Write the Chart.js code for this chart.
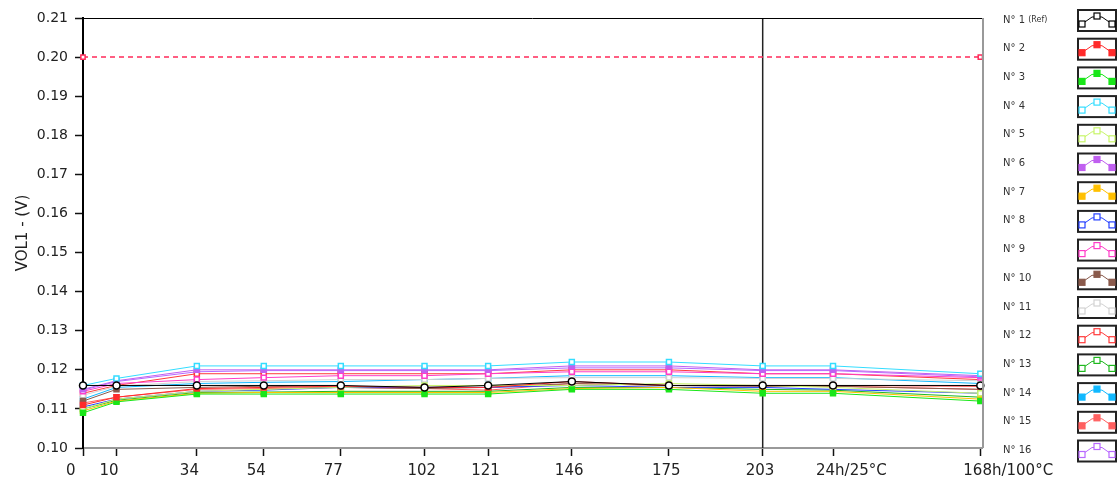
<!DOCTYPE html>
<html>
<head>
<meta charset="utf-8">
<script src="https://cdn.jsdelivr.net/npm/chart.js@4"></script>
<style>
  html, body { margin: 0; padding: 0; background: #fff; }
  #wrap { width: 1117px; height: 489px; }
</style>
</head>
<body>
<div id="wrap"><canvas id="volChart" width="1117" height="489"></canvas></div>
<script>
// time axis: measurement points and their labels
const xValues = [0, 10, 34, 54, 77, 102, 121, 146, 175, 203, 224, 268];
const xLabels = ["0", "10", "34", "54", "77", "102", "121", "146", "175", "203", "24h/25°C", "168h/100°C"];
const yTicks = [0.10, 0.11, 0.12, 0.13, 0.14, 0.15, 0.16, 0.17, 0.18, 0.19, 0.20, 0.21];

const names = ["N° 1 (Ref)", "N° 2", "N° 3", "N° 4", "N° 5", "N° 6", "N° 7", "N° 8",
  "N° 9", "N° 10", "N° 11", "N° 12", "N° 13", "N° 14", "N° 15", "N° 16"];
const colors = ["#000000", "#ff2a2a", "#19e619", "#33ddff", "#c8f56a", "#c060f0", "#ffc000", "#2540ff",
  "#ff3cc8", "#8a5a4c", "#d2d2d2", "#ff3a3a", "#1fb81f", "#10b8ff", "#ff6060", "#b868ff"];
const filled = [false, true, true, false, false, true, true, false,
  false, true, false, false, false, true, true, false];

const n1 = [0.1160, 0.1160, 0.1160, 0.1160, 0.1160, 0.1155, 0.1160, 0.1170, 0.1160, 0.1160, 0.1160, 0.1160];
const n2 = [0.1110, 0.1130, 0.1152, 0.1155, 0.1158, 0.1155, 0.1155, 0.1170, 0.1160, 0.1160, 0.1160, 0.1158];
const n3 = [0.1090, 0.1118, 0.1138, 0.1138, 0.1138, 0.1138, 0.1138, 0.1150, 0.1150, 0.1140, 0.1140, 0.1120];
const n4 = [0.1160, 0.1178, 0.1210, 0.1210, 0.1210, 0.1210, 0.1210, 0.1220, 0.1220, 0.1210, 0.1210, 0.1190];
const n5 = [0.1100, 0.1125, 0.1145, 0.1150, 0.1155, 0.1160, 0.1160, 0.1160, 0.1165, 0.1160, 0.1155, 0.1140];
const n6 = [0.1150, 0.1172, 0.1200, 0.1200, 0.1200, 0.1200, 0.1200, 0.1210, 0.1210, 0.1200, 0.1200, 0.1185];
const n7 = [0.1095, 0.1120, 0.1140, 0.1142, 0.1142, 0.1142, 0.1142, 0.1152, 0.1155, 0.1145, 0.1145, 0.1125];
const n8 = [0.1105, 0.1125, 0.1145, 0.1148, 0.1155, 0.1155, 0.1155, 0.1160, 0.1155, 0.1155, 0.1150, 0.1140];
const n9 = [0.1145, 0.1165, 0.1175, 0.1180, 0.1185, 0.1185, 0.1190, 0.1195, 0.1195, 0.1190, 0.1190, 0.1180];
const n10 = [0.1120, 0.1150, 0.1155, 0.1158, 0.1155, 0.1152, 0.1155, 0.1165, 0.1160, 0.1158, 0.1158, 0.1150];
const n11 = [0.1135, 0.1158, 0.1170, 0.1172, 0.1175, 0.1175, 0.1178, 0.1180, 0.1180, 0.1178, 0.1178, 0.1172];
const n12 = [0.1140, 0.1160, 0.1190, 0.1190, 0.1190, 0.1190, 0.1190, 0.1200, 0.1200, 0.1190, 0.1190, 0.1175];
const n13 = [0.1100, 0.1122, 0.1142, 0.1143, 0.1145, 0.1145, 0.1145, 0.1155, 0.1155, 0.1150, 0.1148, 0.1130];
const n14 = [0.1125, 0.1155, 0.1165, 0.1168, 0.1170, 0.1175, 0.1178, 0.1185, 0.1185, 0.1180, 0.1180, 0.1165];
const n15 = [0.1115, 0.1130, 0.1150, 0.1152, 0.1155, 0.1152, 0.1148, 0.1165, 0.1160, 0.1158, 0.1158, 0.1150];
const n16 = [0.1148, 0.1170, 0.1195, 0.1198, 0.1198, 0.1198, 0.1198, 0.1205, 0.1205, 0.1198, 0.1198, 0.1182];
const series = [n1, n2, n3, n4, n5, n6, n7, n8, n9, n10, n11, n12, n13, n14, n15, n16];

// limit line and cursor
const limitValue = 0.20;
const cursorX = 203;

const datasets = series.map((vals, i) => ({
  label: names[i],
  data: vals.map((v, j) => ({ x: xValues[j], y: v })),
  borderColor: colors[i],
  backgroundColor: filled[i] ? colors[i] : "#ffffff",
  borderWidth: 1,
  pointStyle: i === 0 ? "circle" : "rect",
  pointRadius: 3.5,
  pointBorderWidth: 1.5,
  tension: 0,
  clip: 8
}));

datasets.push({
  label: "limit",
  data: [{ x: xValues[0], y: limitValue }, { x: xValues[xValues.length - 1], y: limitValue }],
  borderColor: "#ff2a5a",
  backgroundColor: "#ffffff",
  borderWidth: 1.5,
  borderDash: [5, 4],
  pointStyle: "rect",
  pointRadius: 3,
  pointBorderWidth: 1.5,
  clip: 8
});
datasets.push({
  label: "cursor",
  data: [{ x: cursorX, y: yTicks[0] }, { x: cursorX, y: yTicks[yTicks.length - 1] }],
  borderColor: "#222",
  borderWidth: 1.5,
  pointRadius: 0
});

// frame + legend on the right
const sideLegend = {
  id: "sideLegend",
  afterDraw(chart) {
    const ctx = chart.ctx;
    const a = chart.chartArea;
    ctx.save();
    ctx.strokeStyle = "#000";
    ctx.lineWidth = 1;
    ctx.beginPath();
    ctx.moveTo(a.left, a.top + 0.5);
    ctx.lineTo(a.right, a.top + 0.5);
    ctx.stroke();
    ctx.strokeStyle = "#999";
    ctx.lineWidth = 2;
    ctx.beginPath();
    ctx.moveTo(a.right + 1, a.top);
    ctx.lineTo(a.right + 1, a.bottom);
    ctx.stroke();

    const step = 28.7;
    for (let i = 0; i < names.length; i++) {
      const cy = 20 + i * step;
      ctx.fillStyle = "#333";
      ctx.textBaseline = "middle";
      ctx.textAlign = "left";
      ctx.font = "10px 'DejaVu Sans'";
      if (i === 0) {
        ctx.fillText("N° 1 ", 1003, cy);
        const w = ctx.measureText("N° 1 ").width;
        ctx.font = "8px 'DejaVu Sans'";
        ctx.fillText("(Ref)", 1003 + w, cy);
      } else {
        ctx.fillText(names[i], 1003, cy);
      }
      const bx = 1077, by = cy - 11, bw = 39, bh = 22;
      ctx.fillStyle = "#fff";
      ctx.fillRect(bx, by, bw, bh);
      ctx.strokeStyle = "#222";
      ctx.lineWidth = 2;
      ctx.strokeRect(bx + 1, by + 1, bw - 1, bh - 1);
      // icon line
      ctx.strokeStyle = colors[i];
      ctx.lineWidth = 1;
      ctx.beginPath();
      ctx.moveTo(bx + 5, by + 15);
      ctx.lineTo(bx + 15, by + 8);
      ctx.lineTo(bx + 25, by + 8);
      ctx.lineTo(bx + 35, by + 15);
      ctx.stroke();
      const pts = [[bx + 5, by + 15], [bx + 20, by + 7], [bx + 35, by + 15]];
      pts.forEach(p => {
        ctx.fillStyle = filled[i] ? colors[i] : "#fff";
        ctx.lineWidth = 1.2;
        ctx.fillRect(p[0] - 3, p[1] - 3, 6, 6);
        ctx.strokeRect(p[0] - 3, p[1] - 3, 6, 6);
      });
    }
    ctx.restore();
  }
};

new Chart(document.getElementById("volChart"), {
  type: "line",
  data: { datasets: datasets },
  options: {
    responsive: false,
    animation: false,
    layout: { padding: { top: 18, right: 135, left: 0, bottom: 0 } },
    plugins: { legend: { display: false }, tooltip: { enabled: false } },
    scales: {
      x: {
        type: "linear",
        min: 0,
        max: 268.5,
        afterFit: s => { s.height = 41; },
        afterBuildTicks: s => { s.ticks = xValues.map(v => ({ value: v })); },
        ticks: {
          autoSkip: false,
          maxRotation: 0,
          align: "start",
          padding: 6,
          labelOffset: -17,
          color: "#222",
          font: { family: "DejaVu Sans", size: 15 },
          callback: v => xLabels[xValues.indexOf(v)]
        },
        grid: { drawOnChartArea: false, tickLength: 8, tickColor: "#111", tickWidth: 1.5 },
        border: { color: "#999", width: 2 }
      },
      y: {
        min: 0.10,
        max: 0.21,
        afterFit: s => { s.width = 83; },
        afterBuildTicks: s => { s.ticks = yTicks.map(v => ({ value: v })); },
        ticks: {
          color: "#222",
          padding: 7,
          font: { family: "DejaVu Sans", size: 14 },
          callback: v => v.toFixed(2)
        },
        grid: { drawOnChartArea: false, tickLength: 8, tickColor: "#111", tickWidth: 1.5 },
        border: { color: "#000", width: 2 },
        title: {
          display: true,
          text: "VOL1 - (V)",
          color: "#222",
          font: { family: "DejaVu Sans", size: 15 },
          padding: { top: 14, bottom: 0 }
        }
      }
    }
  },
  plugins: [sideLegend]
});
</script>
</body>
</html>
